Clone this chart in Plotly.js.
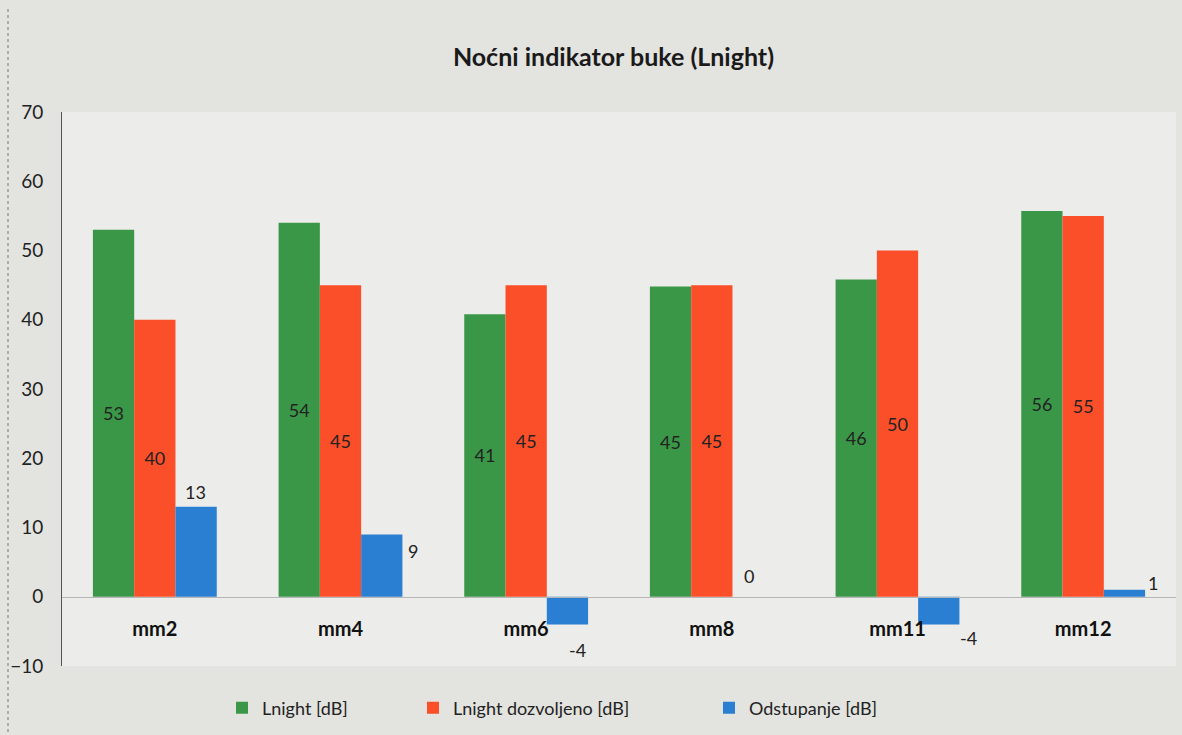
<!DOCTYPE html>
<html>
<head>
<meta charset="utf-8">
<script src="https://cdn.plot.ly/plotly-3.0.1.min.js"></script>
<style>html,body{margin:0;padding:0;background:#e3e3df;}#chart{width:1182px;height:735px;}</style>
</head>
<body>
<div id="chart"></div>
<script>
// ---- data ----
const categories = ['mm2', 'mm4', 'mm6', 'mm8', 'mm11', 'mm12'];
const lnight = [53, 54, 40.8, 44.8, 45.8, 55.7];
const lnightAllowed = [40, 45, 45, 45, 50, 55];
const deviation = [13, 9, -4, 0, -4, 1];
const seriesNames = ['Lnight [dB]', 'Lnight dozvoljeno [dB]', 'Odstupanje [dB]'];

// label placement for the deviation series (pixel offsets, style only)
const devLabelDx = [0, 31, 10, -4, 30, 29];
const devLabelDy = [15, -17, -26, 21, -14, 7];

const FAM = 'Lato, "Open Sans", sans-serif';
const txtFont = {family: FAM, size: 18, color: '#222'};

const traces = [
  {type: 'bar', name: seriesNames[0], x: categories, y: lnight, legend: 'legend',
   marker: {color: '#3b9748'}, text: lnight.map(v => Math.round(v)),
   textposition: 'inside', insidetextanchor: 'middle', textfont: txtFont,
   constraintext: 'none', hoverinfo: 'skip'},
  {type: 'bar', name: seriesNames[1], x: categories, y: lnightAllowed, legend: 'legend2',
   marker: {color: '#fb4f2a'}, text: lnightAllowed.map(v => Math.round(v)),
   textposition: 'inside', insidetextanchor: 'middle', textfont: txtFont,
   constraintext: 'none', hoverinfo: 'skip'},
  {type: 'bar', name: seriesNames[2], x: categories, y: deviation, legend: 'legend3',
   marker: {color: '#2b7fd2'}, textposition: 'none', hoverinfo: 'skip'}
];

const annotations = deviation.map((v, i) => ({
  x: i, y: v, xref: 'x', yref: 'y', text: String(v), showarrow: false,
  xshift: 41 + devLabelDx[i], yshift: devLabelDy[i],
  font: txtFont
}));

const legBase = {orientation: 'h', yanchor: 'middle', y: -0.076, xanchor: 'left',
                 font: {size: 18, color: '#222', family: FAM}, bgcolor: 'rgba(0,0,0,0)',
                 itemwidth: 30};
const pxToX = px => (px - 62) / 1114;

const layout = {
  width: 1182, height: 735,
  margin: {l: 62, r: 6, t: 112, b: 69},
  paper_bgcolor: '#e3e3df',
  plot_bgcolor: '#ececea',
  font: {family: FAM, color: '#222'},
  title: {text: '<b>Noćni indikator buke (Lnight)</b>', x: 0.519, xanchor: 'center',
          y: 1 - 57 / 735, yanchor: 'middle', font: {size: 25, color: '#1a1a1a', family: FAM}},
  barmode: 'group', bargap: 0.333, bargroupgap: 0,
  showlegend: true,
  legend: Object.assign({}, legBase, {x: pxToX(222)}),
  legend2: Object.assign({}, legBase, {x: pxToX(413)}),
  legend3: Object.assign({}, legBase, {x: pxToX(709)}),
  xaxis: {type: 'category', anchor: 'free', position: 0.125,
          showline: true, linecolor: '#b5b5b5', linewidth: 1,
          ticks: '', showgrid: false, zeroline: false,
          tickfont: {size: 20, color: '#111', family: FAM, weight: 'bold'},
          ticklabelstandoff: 14, fixedrange: true},
  yaxis: {range: [-10, 70], dtick: 10, showgrid: false, zeroline: false,
          showline: true, linecolor: '#555', linewidth: 1, ticks: '',
          tickfont: {size: 19, color: '#222', family: FAM}, ticklabelstandoff: 14, fixedrange: true},
  annotations: annotations,
  shapes: [{type: 'line', xref: 'paper', yref: 'paper', x0: -54 / 1114, x1: -54 / 1114,
            y0: -0.13, y1: 1.19, line: {color: '#777', width: 1, dash: 'dot'}}]
};

Plotly.newPlot('chart', traces, layout, {displayModeBar: false, staticPlot: true});
</script>
</body>
</html>
